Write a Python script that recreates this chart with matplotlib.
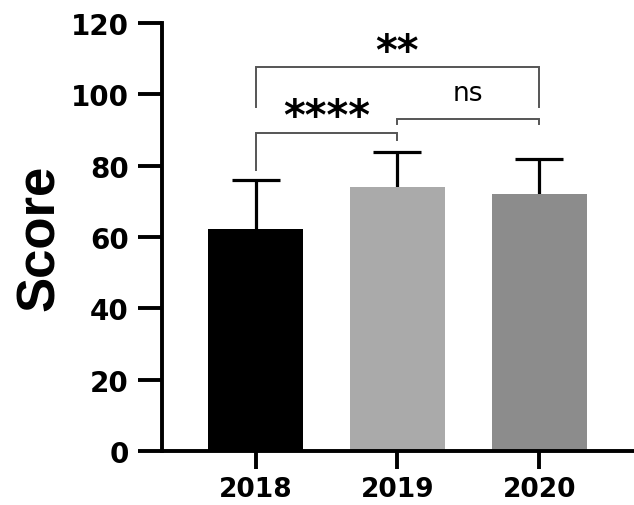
import matplotlib
matplotlib.use("Agg")
import matplotlib.pyplot as plt

# Mean scores per year with one-sided (upper) SD error bars
years = ["2018", "2019", "2020"]
means = [62.2, 74.1, 72.0]
sd = [13.9, 9.6, 9.9]
bar_colors = ["#000000", "#aaaaaa", "#8c8c8c"]

# Significance comparisons: (left index, right index), bracket height, leg ends, label
comp_pairs = [(0, 1), (1, 2), (0, 2)]
comp_heights = [89.3, 93.1, 107.6]
comp_leg_left = [78.8, 91.7, 96.4]
comp_leg_right = [87.2, 91.7, 96.4]
comp_labels = ["****", "ns", "**"]

fig = plt.figure(figsize=(6.34, 5.06), dpi=100)
ax = fig.add_axes([0.2555, 0.1067, 0.7425, 0.8458])

x = list(range(len(years)))
ax.bar(x, means, width=0.67, color=bar_colors, zorder=2)
eb = ax.errorbar(x, means, yerr=[[0] * len(sd), sd], fmt="none", ecolor="black",
                 elinewidth=2.3, capsize=17, capthick=2.3, zorder=1)
# keep only the upper whisker cap
caplines = eb.lines[1]
if len(caplines) > 1:
    caplines[0].set_visible(False)

# Comparison brackets
for (i, j), h, yl, yr, lab in zip(comp_pairs, comp_heights, comp_leg_left,
                                   comp_leg_right, comp_labels):
    ax.plot([i, i, j, j], [yl, h, h, yr], color="#555555", lw=1.4,
            solid_joinstyle="miter", zorder=4)
    if lab == "ns":
        ax.text((i + j) / 2, h + 5.4, lab, ha="center", va="baseline",
                fontsize=19, family="DejaVu Sans")
    else:
        ax.text((i + j) / 2, h + 1.0, lab, ha="center", va="baseline",
                fontsize=30, fontweight="bold", family="DejaVu Sans")

ax.set_ylim(0, 120)
ax.set_xlim(-0.66, 2.66)
ax.set_yticks(range(0, 121, 20))
ax.set_xticks(x)
ax.set_xticklabels(years)

for side in ["top", "right"]:
    ax.spines[side].set_visible(False)
for side in ["left", "bottom"]:
    ax.spines[side].set_linewidth(2.8)

ax.tick_params(axis="y", length=17, width=2.8, pad=7)
ax.tick_params(axis="x", length=13, width=2.8, pad=5)
for lbl in ax.get_xticklabels() + ax.get_yticklabels():
    lbl.set_fontfamily("DejaVu Sans")
    lbl.set_fontweight("bold")
    lbl.set_fontsize(20)
for lbl in ax.get_xticklabels():
    lbl.set_fontsize(19)

ax.set_ylabel("Score", fontsize=38, fontweight="bold",
              family=["Liberation Sans"], labelpad=4)

fig.savefig("out.png", dpi=100)
